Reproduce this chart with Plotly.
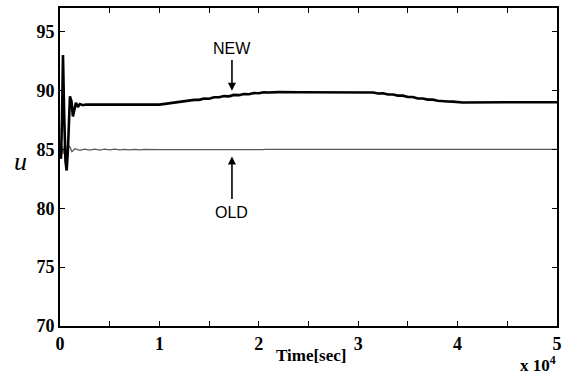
import plotly.graph_objects as go

# NEW controller response
t_new = [0, 100, 200, 300, 420, 550, 670, 800, 1000, 1150, 1300, 1450, 1600, 1800, 2000, 2300, 2600,
         10000, 10500, 11000, 11500, 12000, 12500, 13000, 13500, 14000, 14500, 15000, 15500, 16000,
         16500, 17000, 17500, 18000, 18500, 19000, 19500, 20000, 20500, 21000, 22000, 24000,
         28000, 30000, 30500, 31000, 31500, 32000, 32500, 33000, 33500, 34000, 34500, 35000,
         35500, 36000, 36500, 37000, 37500, 38000, 38500, 39000, 39500, 40000, 40500, 45000, 50000]
u_new = [84.8, 84.2, 87.5, 93.0, 88.0, 84.0, 83.2, 85.0, 89.5, 89.1, 87.8, 88.4, 88.95, 88.6, 88.85, 88.75, 88.8,
         88.8, 88.86, 88.9, 88.98, 89.0, 89.1, 89.1, 89.2, 89.2, 89.32, 89.3, 89.42, 89.42,
         89.52, 89.5, 89.62, 89.6, 89.7, 89.68, 89.78, 89.76, 89.84, 89.82, 89.86, 89.85,
         89.85, 89.85, 89.84, 89.8, 89.82, 89.74, 89.76, 89.66, 89.66, 89.56, 89.56, 89.44,
         89.44, 89.32, 89.32, 89.22, 89.22, 89.12, 89.12, 89.06, 89.05, 89.0, 88.98, 89.0, 89.0]

# OLD controller response
t_old = [0, 150, 300, 500, 700, 850, 1000, 1200, 1500, 2000, 2500, 3000, 3500, 4000, 4500, 5000,
         5500, 6000, 6500, 7000, 7500, 8000, 8500, 9000, 9500, 10000, 20400, 20600, 50000]
u_old = [84.6, 85.4, 84.6, 85.6, 84.5, 85.3, 85.2, 84.8, 85.05, 84.92, 85.02, 84.93, 85.02, 84.94, 85.01, 84.95,
         85.01, 84.95, 85.0, 84.96, 85.0, 84.96, 85.0, 84.97, 84.99, 84.97, 84.97, 85.0, 85.0]

x_tickvals = [0, 10000, 20000, 30000, 40000, 50000]
x_ticktext = ["0", "1", "2", "3", "4", "5"]
y_tickvals = [70, 75, 80, 85, 90, 95]

SERIF = "Liberation Serif, Times New Roman, serif"
SANS = "Liberation Sans, Arial, sans-serif"

fig = go.Figure()
fig.add_trace(go.Scatter(x=t_old, y=u_old, mode="lines",
                         line=dict(color="#5a5a5a", width=1.3), showlegend=False))
fig.add_trace(go.Scatter(x=t_new, y=u_new, mode="lines",
                         line=dict(color="black", width=2.6), showlegend=False))

axis_common = dict(showline=True, linecolor="black", linewidth=2, mirror="ticks",
                   ticks="inside", ticklen=5, tickwidth=1, tickcolor="black",
                   showgrid=False, zeroline=False,
                   tickfont=dict(family=SERIF, size=18, color="black", weight="bold"))

fig.update_xaxes(range=[0, 50000], tickvals=x_tickvals, ticktext=x_ticktext,
                 minor=dict(dtick=5000, tick0=0, ticks="inside", ticklen=5, tickcolor="black"),
                 **axis_common)
fig.update_yaxes(range=[70, 97], tickvals=y_tickvals, **axis_common)

# labelled arrows (text sits at the arrow tail)
fig.add_annotation(x=17300, y=89.97, ax=17300, ay=93.6, axref="x", ayref="y",
                   text="NEW", showarrow=True, arrowhead=2, arrowsize=1, arrowwidth=1.6,
                   arrowcolor="black", startstandoff=2,
                   font=dict(family=SANS, size=16, color="black"))
fig.add_annotation(x=17300, y=84.4, ax=17300, ay=79.6, axref="x", ayref="y",
                   text="OLD", showarrow=True, arrowhead=2, arrowsize=1, arrowwidth=1.6,
                   arrowcolor="black", startstandoff=4,
                   font=dict(family=SANS, size=16, color="black"))

fig.add_annotation(xref="paper", yref="paper", x=(311 - 60) / 497, y=-(356 - 326) / 320,
                   xanchor="center", yanchor="middle",
                   text="<b>Time[sec]</b>", showarrow=False,
                   font=dict(family=SERIF, size=17, color="black"))
fig.add_annotation(xref="paper", yref="paper", x=(538 - 60) / 497, y=-(364 - 326) / 320,
                   xanchor="center", yanchor="middle",
                   text="<b>x 10<sup>4</sup></b>", showarrow=False,
                   font=dict(family=SERIF, size=17, color="black"))
fig.add_annotation(xref="paper", yref="paper", x=-(60 - 20) / 497, y=(326 - 160) / 320,
                   xanchor="center", yanchor="middle",
                   text="<i>u</i>", showarrow=False,
                   font=dict(family=SERIF, size=26, color="black"))

fig.update_layout(width=571, height=379, margin=dict(l=60, r=14, t=6, b=53),
                  paper_bgcolor="white", plot_bgcolor="white")

fig.write_html("out.html")
